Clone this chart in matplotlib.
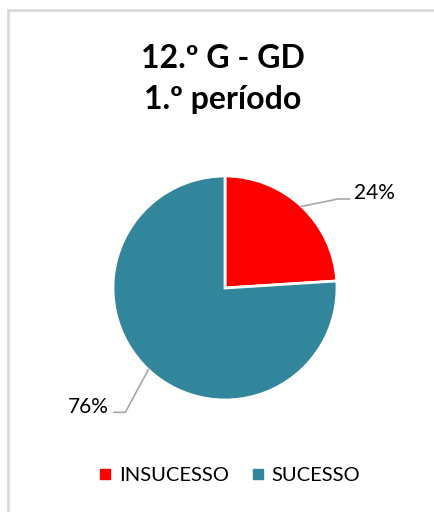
import matplotlib.pyplot as plt
from matplotlib.lines import Line2D
import numpy as np

# dados
categorias = ['INSUCESSO', 'SUCESSO']
valores = [24, 76]
cores = ['#FF0000', '#31869B']
titulo = '12.º G - GD\n1.º período'

plt.rcParams['font.family'] = ['Lato', 'DejaVu Sans']

W, H = 434, 512
fig = plt.figure(figsize=(W / 100, H / 100), dpi=100)

# moldura (cinzento claro)
fig.add_artist(Line2D([8 / W, 1], [1 - 10 / H, 1 - 10 / H], color='#D9D9D9', lw=2))
fig.add_artist(Line2D([8 / W, 8 / W], [0, 1 - 10 / H], color='#D9D9D9', lw=2))

fig.text(223 / W, 1 - 79 / H, titulo, ha='center', va='center',
         fontsize=23, fontweight='bold', linespacing=1.5)

# pie: centro (225, 288) px, raio 112 px
r = 112
ax = fig.add_axes([(225 - r) / W, (H - 288 - r) / H, 2 * r / W, 2 * r / H])
wedges, _ = ax.pie(valores, colors=cores, startangle=90, counterclock=False,
                   radius=1, wedgeprops=dict(edgecolor='white', linewidth=2))
ax.set_xlim(-1, 1)
ax.set_ylim(-1, 1)
ax.set_aspect('equal')

# rótulos com linhas de chamada
cum = np.cumsum([0] + valores)
total = sum(valores)
cotovelos = [(1.01, 0.795), (-0.89, -1.11)]
for i, v in enumerate(valores):
    ang = np.deg2rad(90 - 360 * (cum[i] + v / 2) / total)
    x0, y0 = np.cos(ang), np.sin(ang)
    ex, ey = cotovelos[i]
    if ex > 0:
        xs = [x0, ex, ex + 0.1]
        tx, ha = ex + 0.14, 'left'
    else:
        xs = [x0, ex, ex - 0.1]
        tx, ha = ex - 0.15, 'right'
    ax.plot(xs, [y0, ey, ey], color='#A6A6A6', lw=1.2, clip_on=False)
    ax.text(tx, ey + 0.05, f'{v}%', ha=ha, va='center', fontsize=15, clip_on=False)

handles = [Line2D([], [], marker='s', linestyle='', markersize=7,
                  markerfacecolor=c, markeredgecolor=c) for c in cores]
fig.legend(handles, categorias, loc='center', bbox_to_anchor=(229 / W, 1 - 475 / H),
           ncol=2, frameon=False, fontsize=14.5, handletextpad=0.3,
           columnspacing=1.0, handlelength=0.8)

fig.savefig('out.png', dpi=100)
